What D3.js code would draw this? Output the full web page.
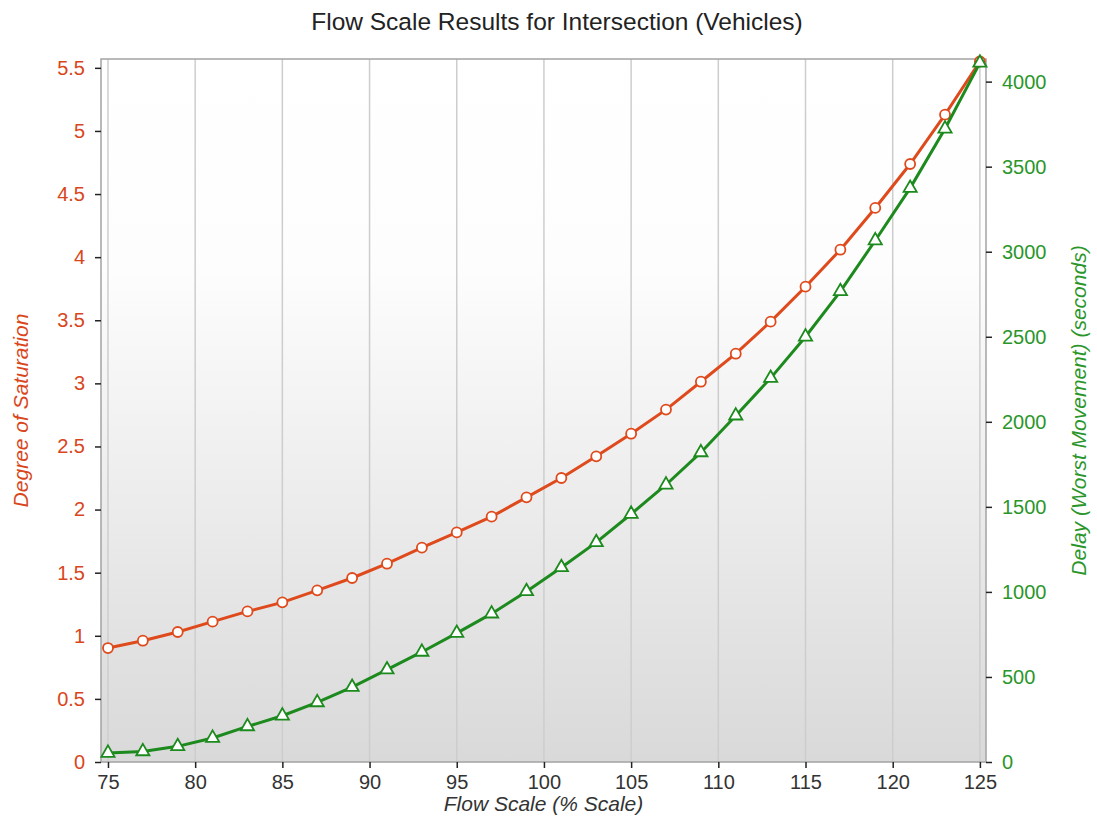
<!DOCTYPE html>
<head>
  <meta charset="utf-8">
  <script src="https://d3js.org/d3.v7.min.js"></script>
  <style>
    body { margin: 0; background: #fff; }
    svg text { font-family: "Liberation Sans", Arial, sans-serif; }
  </style>
</head>
<body>
  <script>
    // chart values
    var flowScale = [75, 77, 79, 81, 83, 85, 87, 89, 91, 93, 95, 97, 99, 101, 103, 105, 107, 109, 111, 113, 115, 117, 119, 121, 123, 125];
    var saturation = [0.903, 0.961, 1.030, 1.112, 1.193, 1.265, 1.360, 1.458, 1.571, 1.698, 1.819, 1.944, 2.097, 2.250, 2.422, 2.601, 2.792, 3.013, 3.235, 3.489, 3.766, 4.059, 4.390, 4.738, 5.129, 5.55];
    var delay = [53, 62, 92, 141, 209, 272, 350, 440, 543, 647, 758, 872, 1003, 1144, 1291, 1458, 1630, 1820, 2036, 2257, 2500, 2767, 3066, 3374, 3723, 4110];
    var xTicks = [75, 80, 85, 90, 95, 100, 105, 110, 115, 120, 125];
    var leftTicks = [0, 0.5, 1, 1.5, 2, 2.5, 3, 3.5, 4, 4.5, 5, 5.5];
    var rightTicks = [0, 500, 1000, 1500, 2000, 2500, 3000, 3500, 4000];

    var outerWidth = 1097, outerHeight = 820;
    var plot = { left: 101, right: 986, top: 59, bottom: 762 };

    var redLine = "#df4a1c", redText = "#d9461b";
    var greenLine = "#1d8a1d", greenText = "#2a962a";

    var xScale = d3.scaleLinear().domain([74.6, 125.35]).range([plot.left, plot.right]);
    var yLeft = d3.scaleLinear().domain([0, 5.57]).range([plot.bottom, plot.top]);
    var yRight = d3.scaleLinear().domain([0, 4133]).range([plot.bottom, plot.top]);

    var svg = d3.select("body").append("svg")
      .attr("width", outerWidth)
      .attr("height", outerHeight);

    // background gradient of the plot area
    var grad = svg.append("defs").append("linearGradient")
      .attr("id", "bg").attr("x1", 0).attr("y1", 0).attr("x2", 0).attr("y2", 1);
    grad.append("stop").attr("offset", "0%").attr("stop-color", "#ffffff");
    grad.append("stop").attr("offset", "30%").attr("stop-color", "#fdfdfd");
    grad.append("stop").attr("offset", "100%").attr("stop-color", "#d9d9d9");

    svg.append("rect")
      .attr("x", plot.left).attr("y", plot.top)
      .attr("width", plot.right - plot.left).attr("height", plot.bottom - plot.top)
      .attr("fill", "url(#bg)");

    // vertical grid lines
    svg.append("g").selectAll("line")
      .data(xTicks)
      .enter().append("line")
      .attr("x1", function(d) { return xScale(d); })
      .attr("x2", function(d) { return xScale(d); })
      .attr("y1", plot.top).attr("y2", plot.bottom)
      .attr("stroke", "#cdcdcd").attr("stroke-width", 1.5);

    // frame
    svg.append("rect")
      .attr("x", plot.left).attr("y", plot.top)
      .attr("width", plot.right - plot.left).attr("height", plot.bottom - plot.top)
      .attr("fill", "none").attr("stroke", "#a3a3a3").attr("stroke-width", 1.5);

    // axes
    var xAxis = d3.axisBottom(xScale).tickValues(xTicks).tickSize(6).tickPadding(7);
    var gx = svg.append("g").attr("transform", "translate(0," + plot.bottom + ")").call(xAxis);
    gx.select(".domain").remove();
    gx.selectAll("line").attr("stroke", "#222").attr("stroke-width", 1.5);
    gx.selectAll("text").attr("fill", "#333").style("font-size", "20px");

    var lAxis = d3.axisLeft(yLeft).tickValues(leftTicks).tickFormat(d3.format("~g")).tickSize(6).tickPadding(10);
    var gl = svg.append("g").attr("transform", "translate(" + plot.left + ",0)").call(lAxis);
    gl.select(".domain").remove();
    gl.selectAll("line").attr("stroke", "#222").attr("stroke-width", 1.5);
    gl.selectAll("text").attr("fill", redText).style("font-size", "20px");

    var rAxis = d3.axisRight(yRight).tickValues(rightTicks).tickFormat(d3.format("d")).tickSize(6).tickPadding(10);
    var gr = svg.append("g").attr("transform", "translate(" + plot.right + ",0)").call(rAxis);
    gr.select(".domain").remove();
    gr.selectAll("line").attr("stroke", "#222").attr("stroke-width", 1.5);
    gr.selectAll("text").attr("fill", greenText).style("font-size", "20px");

    // titles
    svg.append("text")
      .attr("x", 557).attr("y", 30)
      .attr("text-anchor", "middle")
      .attr("fill", "#222")
      .style("font-size", "24.5px")
      .text("Flow Scale Results for Intersection (Vehicles)");

    svg.append("text")
      .attr("x", (plot.left + plot.right) / 2).attr("y", 811)
      .attr("text-anchor", "middle")
      .attr("fill", "#333")
      .style("font-size", "21px").style("font-style", "italic")
      .text("Flow Scale (% Scale)");

    svg.append("text")
      .attr("transform", "translate(28," + (plot.top + plot.bottom) / 2 + ") rotate(-90)")
      .attr("text-anchor", "middle")
      .attr("fill", redText)
      .style("font-size", "21px").style("font-style", "italic")
      .text("Degree of Saturation");

    svg.append("text")
      .attr("transform", "translate(1086," + (plot.top + plot.bottom) / 2 + ") rotate(-90)")
      .attr("text-anchor", "middle")
      .attr("fill", greenText)
      .style("font-size", "21px").style("font-style", "italic")
      .text("Delay (Worst Movement) (seconds)");

    // series
    var rows = flowScale.map(function(f, i) {
      return { flow: f, dos: saturation[i], delay: delay[i] };
    });

    var redPath = d3.line()
      .x(function(d) { return xScale(d.flow); })
      .y(function(d) { return yLeft(d.dos); });
    var greenPath = d3.line()
      .x(function(d) { return xScale(d.flow); })
      .y(function(d) { return yRight(d.delay); });

    svg.append("path").datum(rows)
      .attr("d", redPath)
      .attr("fill", "none").attr("stroke", redLine).attr("stroke-width", 3);

    svg.append("g").selectAll("circle")
      .data(rows)
      .enter().append("circle")
      .attr("cx", function(d) { return xScale(d.flow); })
      .attr("cy", function(d) { return yLeft(d.dos); })
      .attr("r", 5)
      .attr("fill", "#fff").attr("stroke", redLine).attr("stroke-width", 1.8);

    svg.append("path").datum(rows)
      .attr("d", greenPath)
      .attr("fill", "none").attr("stroke", greenLine).attr("stroke-width", 3);

    var tri = d3.symbol().type(d3.symbolTriangle).size(75);
    svg.append("g").selectAll("path")
      .data(rows)
      .enter().append("path")
      .attr("d", tri)
      .attr("transform", function(d) {
        return "translate(" + xScale(d.flow) + "," + yRight(d.delay) + ")";
      })
      .attr("fill", "#fff").attr("stroke", greenLine).attr("stroke-width", 1.8);
  </script>
</body>
